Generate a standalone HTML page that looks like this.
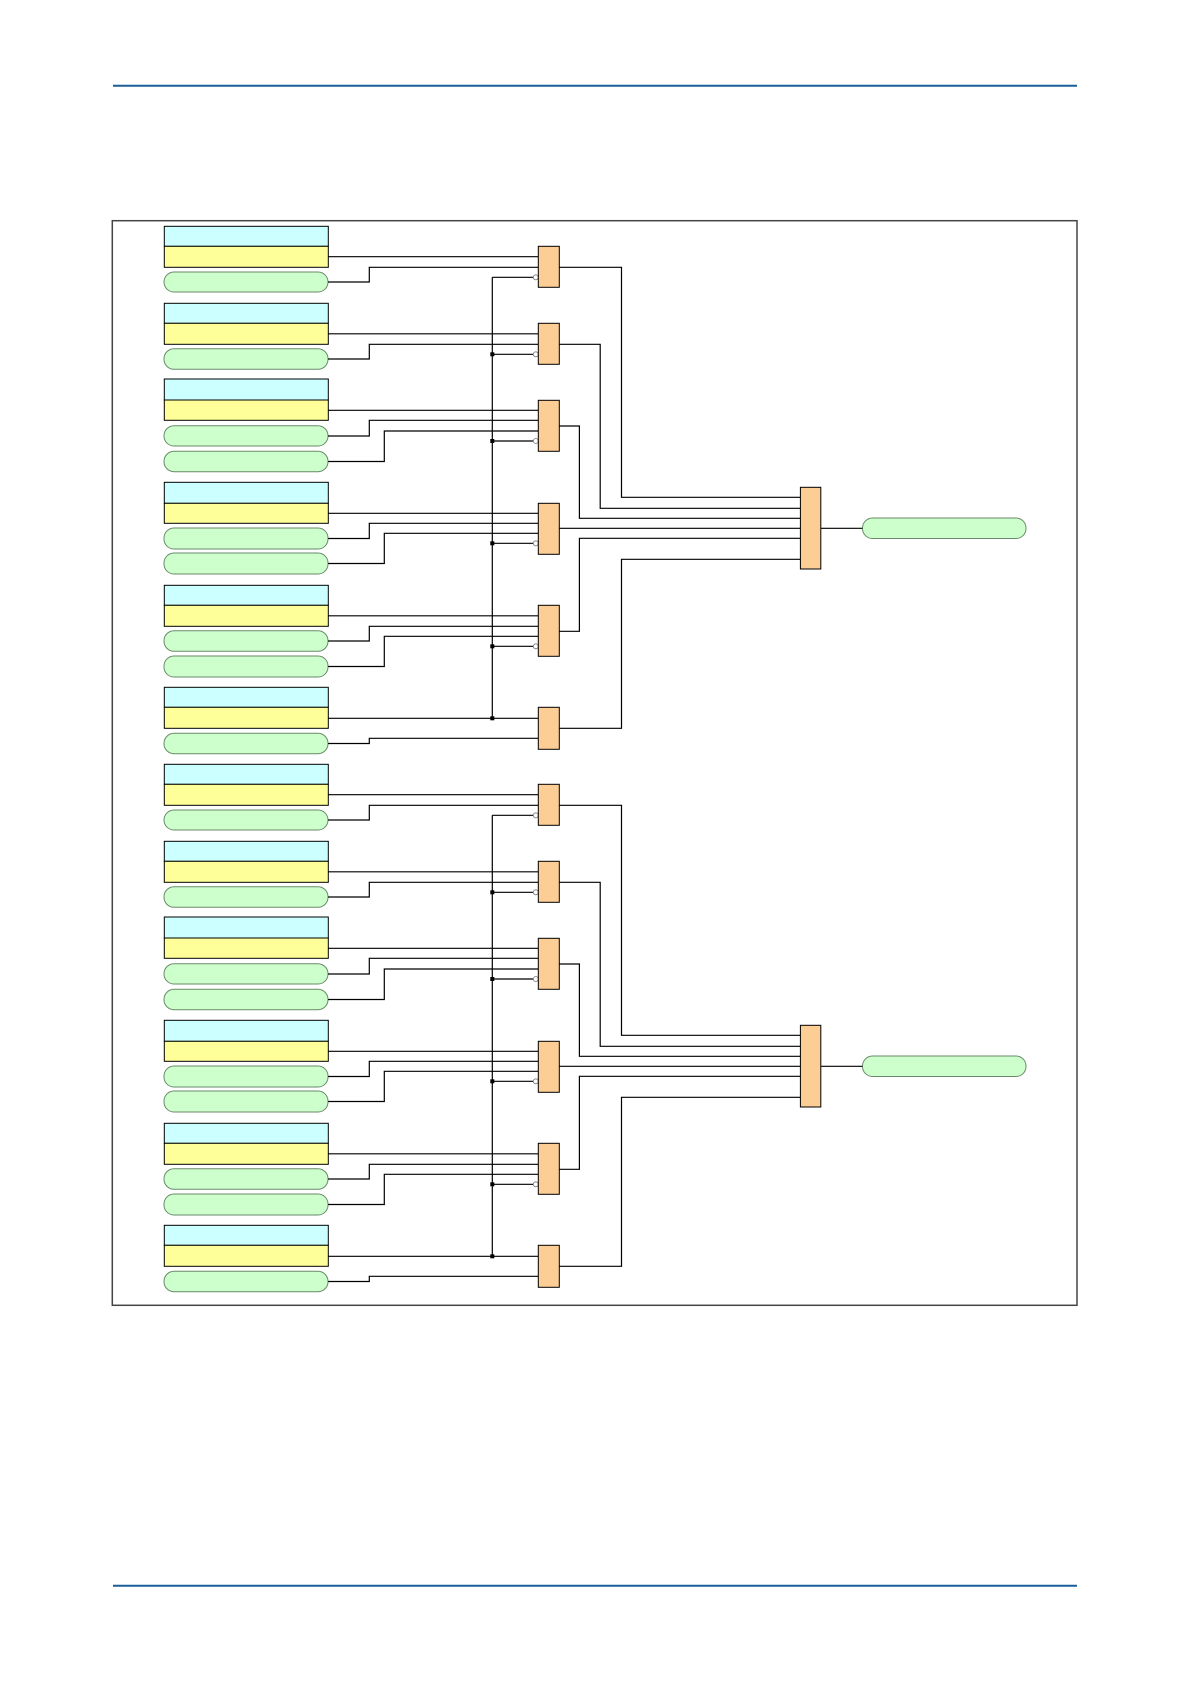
<!DOCTYPE html>
<html><head><meta charset="utf-8">
<style>
html,body{margin:0;padding:0;background:#fff;}
svg{display:block;}
</style></head>
<body>
<svg width="1191" height="1684" viewBox="0 0 1191 1684" xmlns="http://www.w3.org/2000/svg">
<line x1="113" y1="85.7" x2="1077" y2="85.7" stroke="#1a5e9a" stroke-width="2"/>
<line x1="113" y1="1585.7" x2="1077" y2="1585.7" stroke="#1a5e9a" stroke-width="2"/>
<rect x="112.3" y="220.7" width="964.7" height="1084.6" fill="none" stroke="#444" stroke-width="1.5"/>
<defs>
<g id="grp">
 <g stroke="#000" stroke-width="1">
  <rect x="164.3" y="226.3" width="164" height="20" fill="#ccffff"/>
  <rect x="164.3" y="246.3" width="164" height="21" fill="#ffff99"/>
  <rect x="164.3" y="303.3" width="164" height="20" fill="#ccffff"/>
  <rect x="164.3" y="323.3" width="164" height="21" fill="#ffff99"/>
  <rect x="164.3" y="379" width="164" height="21" fill="#ccffff"/>
  <rect x="164.3" y="400" width="164" height="20.3" fill="#ffff99"/>
  <rect x="164.3" y="482.3" width="164" height="21" fill="#ccffff"/>
  <rect x="164.3" y="503.3" width="164" height="20" fill="#ffff99"/>
  <rect x="164.3" y="585.3" width="164" height="20" fill="#ccffff"/>
  <rect x="164.3" y="605.3" width="164" height="21" fill="#ffff99"/>
  <rect x="164.3" y="687.3" width="164" height="20" fill="#ccffff"/>
  <rect x="164.3" y="707.3" width="164" height="21" fill="#ffff99"/>
 </g>
 <g fill="#ccffcc" stroke="#6a8a6a" stroke-width="1">
  <rect x="164" y="272" width="164" height="20" rx="10"/>
  <rect x="164" y="348.7" width="164" height="20.6" rx="10"/>
  <rect x="164" y="425.7" width="164" height="20.3" rx="10"/>
  <rect x="164" y="451.3" width="164" height="20.4" rx="10"/>
  <rect x="164" y="528" width="164" height="21" rx="10"/>
  <rect x="164" y="553" width="164" height="21" rx="10"/>
  <rect x="164" y="630.7" width="164" height="20.6" rx="10"/>
  <rect x="164" y="656" width="164" height="21" rx="10"/>
  <rect x="164" y="733.3" width="164" height="20.4" rx="10"/>
  <rect x="862.5" y="518" width="163.5" height="20.5" rx="10"/>
 </g>
 <g fill="none" stroke="#000" stroke-width="1.2">
  <polyline points="328.3,256.7 538.3,256.7"/>
  <polyline points="328,282 369.3,282 369.3,267.3 538.3,267.3"/>
  <polyline points="492.3,277.3 534,277.3"/>
  <polyline points="328.3,333.8 538.3,333.8"/>
  <polyline points="328,359 369.3,359 369.3,344.3 538.3,344.3"/>
  <polyline points="492.3,354.3 534,354.3"/>
  <polyline points="328.3,410.3 538.3,410.3"/>
  <polyline points="328,436 369.3,436 369.3,420.3 538.3,420.3"/>
  <polyline points="328,461.5 384.3,461.5 384.3,431 538.3,431"/>
  <polyline points="492.3,441 534,441"/>
  <polyline points="328.3,513.3 538.3,513.3"/>
  <polyline points="328,538.5 369.3,538.5 369.3,523.3 538.3,523.3"/>
  <polyline points="328,563.5 384.3,563.5 384.3,533.3 538.3,533.3"/>
  <polyline points="492.3,543.3 534,543.3"/>
  <polyline points="328.3,615.8 538.3,615.8"/>
  <polyline points="328,641 369.3,641 369.3,626.3 538.3,626.3"/>
  <polyline points="328,666.5 384.3,666.5 384.3,636.3 538.3,636.3"/>
  <polyline points="492.3,646.3 534,646.3"/>
  <polyline points="328.3,718.3 538.3,718.3"/>
  <polyline points="328,743.5 369.3,743.5 369.3,738.3 538.3,738.3"/>
  <polyline points="492.3,277.3 492.3,718.3"/>
  <polyline points="559,267.3 621.5,267.3 621.5,497.3 800.4,497.3"/>
  <polyline points="559,344.3 600.2,344.3 600.2,508.3 800.4,508.3"/>
  <polyline points="559,426 579.4,426 579.4,518.3 800.4,518.3"/>
  <polyline points="559,528.3 800.4,528.3"/>
  <polyline points="559,631.3 579.4,631.3 579.4,538.3 800.4,538.3"/>
  <polyline points="559,728.3 621.5,728.3 621.5,559.3 800.4,559.3"/>
  <polyline points="820.8,528.3 862.5,528.3"/>
 </g>
 <g fill="#000">
  <rect x="490.3" y="352.3" width="4" height="4"/>
  <rect x="490.3" y="439" width="4" height="4"/>
  <rect x="490.3" y="541.3" width="4" height="4"/>
  <rect x="490.3" y="644.3" width="4" height="4"/>
  <rect x="490.3" y="716.3" width="4" height="4"/>
 </g>
 <g fill="#fff" stroke="#777" stroke-width="0.8">
  <circle cx="535.8" cy="277.3" r="2.5"/>
  <circle cx="535.8" cy="354.3" r="2.5"/>
  <circle cx="535.8" cy="441" r="2.5"/>
  <circle cx="535.8" cy="543.3" r="2.5"/>
  <circle cx="535.8" cy="646.3" r="2.5"/>
 </g>
 <g fill="#fdcd96" stroke="#000" stroke-width="1">
  <rect x="538.3" y="246.3" width="21" height="41"/>
  <rect x="538.3" y="323.3" width="21" height="41"/>
  <rect x="538.3" y="400.3" width="21" height="51"/>
  <rect x="538.3" y="503.3" width="21" height="51"/>
  <rect x="538.3" y="605.3" width="21" height="51"/>
  <rect x="538.3" y="707.3" width="21" height="42"/>
  <rect x="800.4" y="487.3" width="20.4" height="81.7"/>
 </g>
</g>
</defs>
<use href="#grp"/>
<use href="#grp" transform="translate(0,538)"/>
</svg>
</body></html>
